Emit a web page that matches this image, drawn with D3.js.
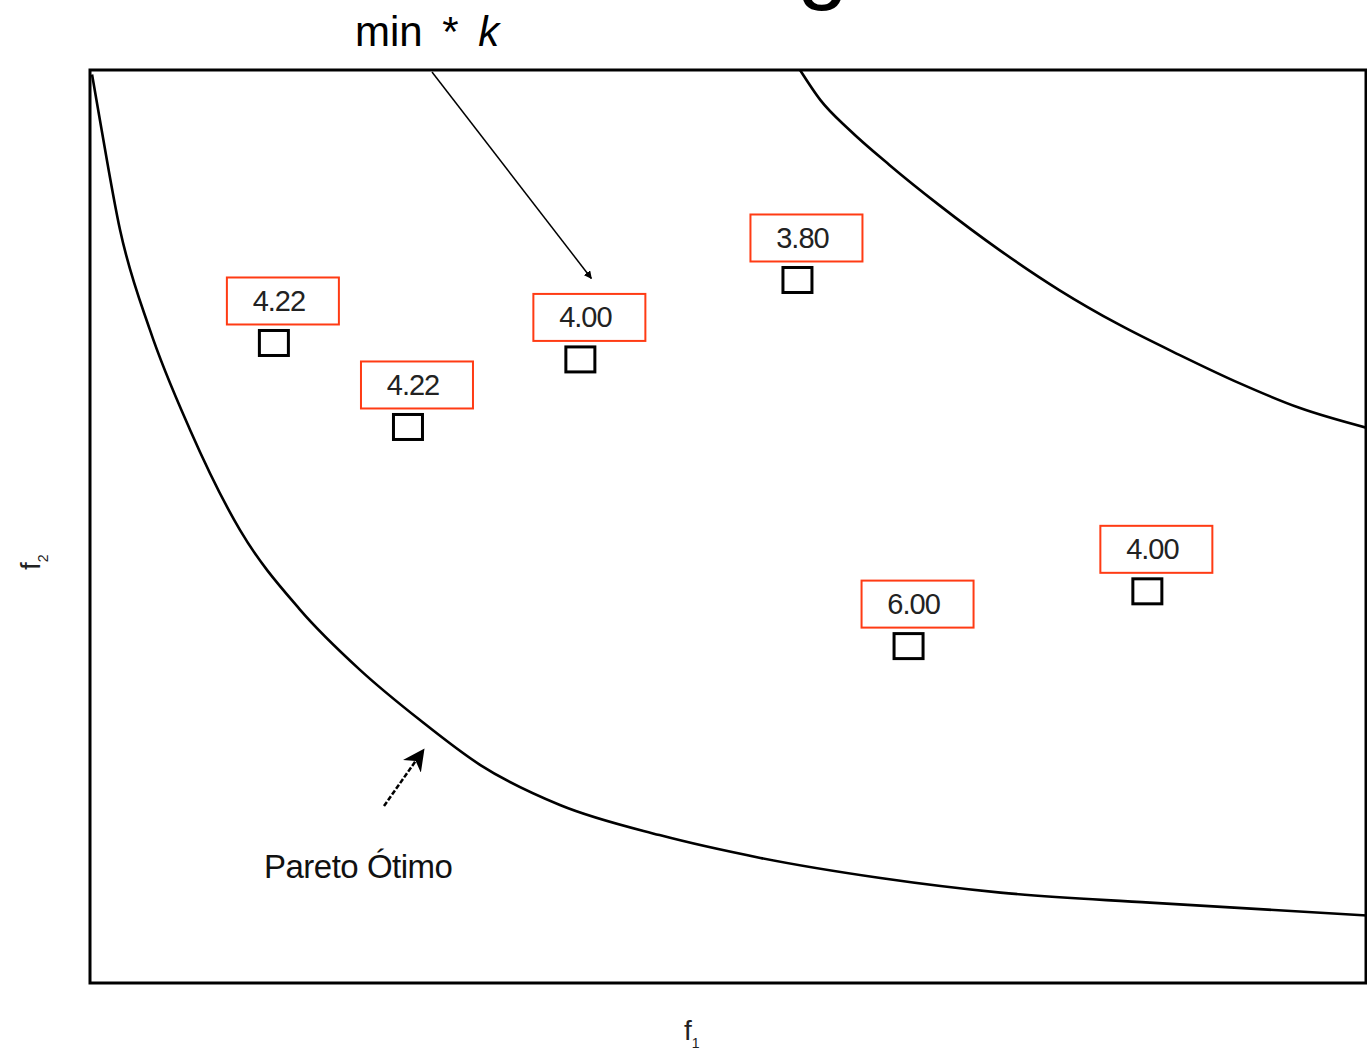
<!DOCTYPE html>
<html>
<head>
<meta charset="utf-8">
<script src="https://cdn.jsdelivr.net/npm/d3@7"></script>
<style>
  html, body { margin: 0; padding: 0; background: #fff; }
  svg { display: block; }
</style>
</head>
<body>
<div id="chart"></div>
<script>
// solutions: f1, f2 and the score shown in the red box
const solF1 = [14.4, 24.9, 38.4, 55.4, 64.1, 82.8];
const solF2 = [70.1, 60.9, 68.3, 77.0, 36.9, 42.9];
const solLabels = ['4.22', '4.22', '4.00', '3.80', '6.00', '4.00'];

// pareto front (lower curve)
const paretoF1 = [0.16, 0.78, 2.35, 4.70, 7.83, 11.75, 16.44, 21.14, 25.84, 30.54, 36.8, 44.6, 52.5, 61.9, 71.3, 83.0, 100];
const paretoF2 = [99.5, 94.5, 82.5, 71.5, 60.6, 49.6, 40.9, 34.3, 28.8, 23.9, 19.5, 16.2, 13.7, 11.5, 9.9, 8.8, 7.4];

// min * k curve (upper right)
const upperF1 = [55.6, 57.2, 59.5, 62.6, 66.5, 71.2, 75.9, 80.6, 85.3, 90.0, 94.7, 100];
const upperF2 = [100, 96.7, 93.4, 89.6, 85.2, 80.3, 75.9, 72.1, 68.8, 65.7, 63.0, 60.8];

const W = 1367, H = 1054;
const box = { left: 90, top: 70, right: 1367, bottom: 983 };

const svg = d3.select('#chart').append('svg').attr('width', W).attr('height', H);

const defs = svg.append('defs');
defs.append('marker')
  .attr('id', 'thin-arrow')
  .attr('viewBox', '0 0 10 10')
  .attr('refX', 9).attr('refY', 5)
  .attr('markerWidth', 8).attr('markerHeight', 8)
  .attr('markerUnits', 'userSpaceOnUse')
  .attr('orient', 'auto')
  .append('path').attr('d', 'M0,0L10,5L0,10Z').attr('fill', '#000');
defs.append('marker')
  .attr('id', 'fat-arrow')
  .attr('viewBox', '0 0 10 10')
  .attr('refX', 8).attr('refY', 5)
  .attr('markerWidth', 22).attr('markerHeight', 22)
  .attr('markerUnits', 'userSpaceOnUse')
  .attr('orient', 'auto')
  .append('path').attr('d', 'M0,0L10,5L0,10L3,5Z').attr('fill', '#000');

const x = d3.scaleLinear().domain([0, 100]).range([box.left, box.right]);
const y = d3.scaleLinear().domain([0, 100]).range([box.bottom, box.top]);

// clipped big title glyph peeking at the top
svg.append('text')
  .attr('x', 797).attr('y', -8)
  .attr('font-family', 'Liberation Sans, Arial, sans-serif')
  .attr('font-size', 92)
  .text('g');

const plot = svg.append('g');

const line = d3.line()
  .x(d => x(d[0]))
  .y(d => y(d[1]))
  .curve(d3.curveMonotoneX);

plot.append('path')
  .datum(d3.zip(paretoF1, paretoF2))
  .attr('d', line)
  .attr('fill', 'none')
  .attr('stroke', '#000')
  .attr('stroke-width', 2.6);

plot.append('path')
  .datum(d3.zip(upperF1, upperF2))
  .attr('d', line)
  .attr('fill', 'none')
  .attr('stroke', '#000')
  .attr('stroke-width', 2.6);

// frame
plot.append('rect')
  .attr('x', box.left).attr('y', box.top)
  .attr('width', box.right - box.left - 1)
  .attr('height', box.bottom - box.top)
  .attr('fill', 'none')
  .attr('stroke', '#000')
  .attr('stroke-width', 3);

const sols = d3.zip(solF1, solF2, solLabels);
const sq = 27;
const lbW = 112, lbH = 47;

const solG = plot.selectAll('g.sol')
  .data(sols)
  .join('g')
  .attr('class', 'sol')
  .attr('transform', d => `translate(${x(d[0])},${y(d[1])})`);

solG.append('rect')
  .attr('x', -sq / 2 - 1).attr('y', -sq / 2 + 1)
  .attr('width', sq + 2).attr('height', sq - 2)
  .attr('fill', 'none')
  .attr('stroke', '#000')
  .attr('stroke-width', 3);

solG.append('rect')
  .attr('x', -lbW / 2 + 9).attr('y', -42 - lbH / 2)
  .attr('width', lbW).attr('height', lbH)
  .attr('fill', 'none')
  .attr('stroke', '#ff3b14')
  .attr('stroke-width', 2);

solG.append('text')
  .attr('x', 5).attr('y', -32)
  .attr('text-anchor', 'middle')
  .attr('font-family', 'Liberation Sans, Arial, sans-serif')
  .attr('font-size', 29)
  .attr('fill', '#222')
  .attr('letter-spacing', -1)
  .text(d => d[2]);

// min * k annotation
const minText = svg.append('text')
  .attr('x', 355).attr('y', 46)
  .attr('font-family', 'Liberation Sans, Arial, sans-serif')
  .attr('font-size', 42)
  .attr('word-spacing', 8)
  .attr('fill', '#000');
minText.append('tspan').text('min * ');
minText.append('tspan').attr('font-style', 'italic').text('k');

svg.append('line')
  .attr('x1', 432).attr('y1', 72)
  .attr('x2', x(solF1[2]) + 11).attr('y2', y(solF2[2]) - 81)
  .attr('stroke', '#000')
  .attr('stroke-width', 1.5)
  .attr('marker-end', 'url(#thin-arrow)');

// pareto annotation
svg.append('line')
  .attr('x1', 384).attr('y1', 806)
  .attr('x2', 422).attr('y2', 752)
  .attr('stroke', '#000')
  .attr('stroke-width', 2.5)
  .attr('stroke-dasharray', '5,2')
  .attr('marker-end', 'url(#fat-arrow)');

svg.append('text')
  .attr('x', 264).attr('y', 878)
  .attr('font-family', 'Liberation Sans, Arial, sans-serif')
  .attr('font-size', 33)
  .attr('fill', '#111')
  .attr('letter-spacing', -0.5)
  .text('Pareto Ótimo');

// axis titles
const f1 = svg.append('text')
  .attr('x', 684).attr('y', 1040)
  .attr('font-family', 'Liberation Sans, Arial, sans-serif')
  .attr('font-size', 28)
  .attr('fill', '#222');
f1.append('tspan').text('f');
f1.append('tspan').attr('font-size', 14).attr('dy', 8).text('1');

const f2 = svg.append('text')
  .attr('transform', 'translate(40,570) rotate(-90)')
  .attr('font-family', 'Liberation Sans, Arial, sans-serif')
  .attr('font-size', 28)
  .attr('fill', '#222');
f2.append('tspan').text('f');
f2.append('tspan').attr('font-size', 14).attr('dy', 8).text('2');
</script>
</body>
</html>
